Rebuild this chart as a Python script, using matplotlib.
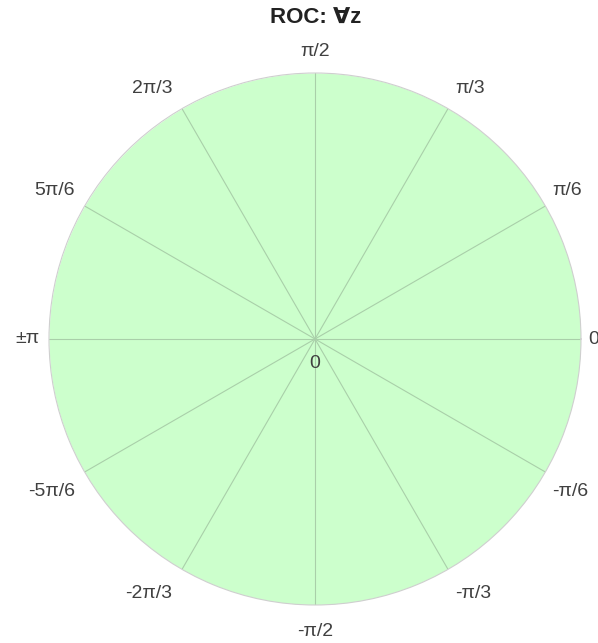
import numpy as np
import matplotlib
matplotlib.use("Agg")
import matplotlib.pyplot as plt

plt.rcParams["font.family"] = ["Liberation Sans", "DejaVu Sans"]

# region of convergence: every z (whole plane, clipped to the plot radius)
roc_inner = 0.0
roc_outer = 1.0
roc_title = "ROC: \u2200z"

# angular grid (degrees) and their labels
grid_deg = [0, 30, 60, 90, 120, 150, 180, 210, 240, 270, 300, 330]
grid_labels = ["0", "\u03c0/6", "\u03c0/3", "\u03c0/2", "2\u03c0/3", "5\u03c0/6",
               "\u00b1\u03c0", "-5\u03c0/6", "-2\u03c0/3", "-\u03c0/2", "-\u03c0/3", "-\u03c0/6"]
r_label = "0"

FILL = "#ccffcc"
GRID = "#a9cfa9"
TEXT = "#404040"

fig = plt.figure(figsize=(5.98, 6.43), dpi=100)
ax = fig.add_axes([49 / 598, 38 / 643, 532 / 598, 532 / 643], projection="polar")

theta = np.linspace(0, 2 * np.pi, 721)
ax.fill_between(theta, roc_inner, roc_outer, color=FILL, lw=0, zorder=0)

ax.set_rlim(0, 1)
ax.set_yticks([])
ax.set_thetagrids(grid_deg, labels=[""] * len(grid_deg))
ax.grid(True, color=GRID, lw=0.8)
ax.spines["polar"].set_edgecolor("#cfcfcf")
ax.spines["polar"].set_linewidth(0.8)
ax.set_facecolor("white")

for deg, lab in zip(grid_deg, grid_labels):
    t = np.deg2rad(deg)
    c, s = np.cos(t), np.sin(t)
    if c > 0.01:
        ha, dx = "left", 7
    elif c < -0.01:
        ha, dx = "right", -10
    else:
        ha, dx = "center", 0
    if s >= 0:
        dy = 21 * abs(s) ** 0.4
    else:
        dy = -26 * abs(s) ** 0.4
    ax.annotate(lab, xy=(t, 1.0), xytext=(dx, dy), textcoords="offset pixels",
                ha=ha, va="center", fontsize=14, color=TEXT, annotation_clip=False)

ax.annotate(r_label, xy=(0, 0), xytext=(0, -24), textcoords="offset pixels",
            ha="center", va="center", fontsize=14, color=TEXT)

fig.text(316 / 598, 1 - 18 / 643, roc_title, ha="center", va="center",
         fontsize=16, fontweight="bold", color="#222222")

fig.savefig("out.png", dpi=100)
